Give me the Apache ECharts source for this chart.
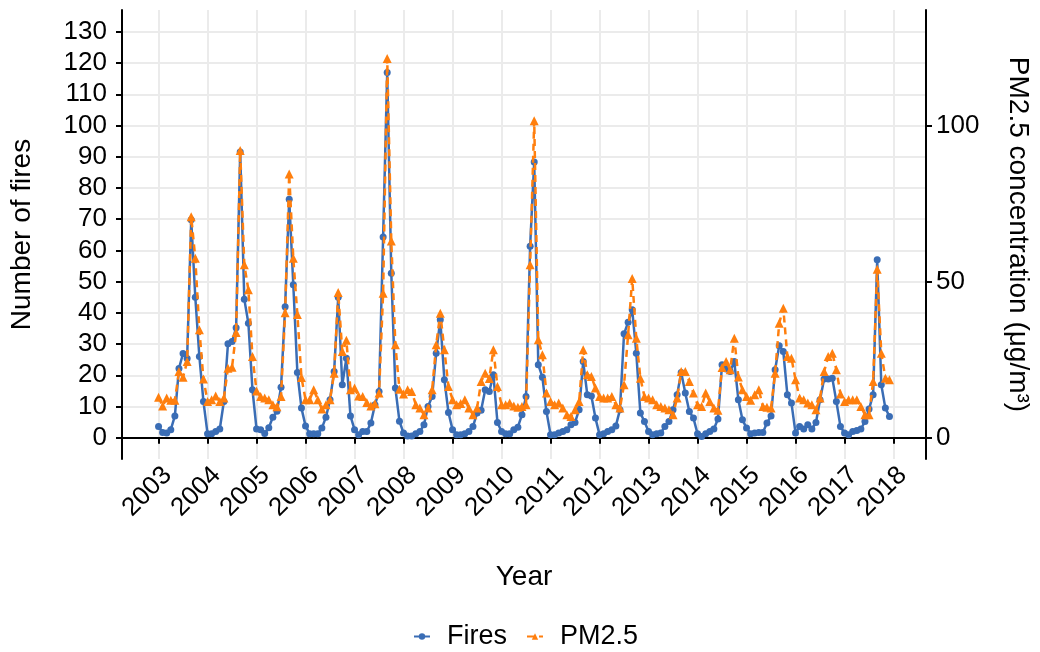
<!DOCTYPE html>
<html>
<head>
<meta charset="utf-8">
<title>Fires and PM2.5</title>
<script src="https://cdn.jsdelivr.net/npm/echarts@6/dist/echarts.min.js"></script>
<style>
  html, body { margin: 0; padding: 0; background: #ffffff; }
  #chart { width: 1040px; height: 652px; }
</style>
</head>
<body>
<div id="chart"></div>
<script>
// Monthly series, January 2003 to December 2017
const startYear = 2003;

const fires = [
  // 2003
  3.6, 1.7, 1.5, 2.6, 7.0, 22.2, 27.0, 25.4, 69.8, 45.0, 26.0, 11.6,
  // 2004
  1.3, 1.3, 2.0, 2.8, 11.6, 30.1, 30.8, 35.2, 91.5, 44.4, 36.7, 15.4,
  // 2005
  2.8, 2.6, 1.4, 3.2, 6.6, 8.5, 16.2, 42.0, 76.4, 49.0, 20.9, 9.5,
  // 2006
  3.8, 1.3, 1.3, 1.3, 3.1, 6.6, 12.2, 21.2, 45.0, 17.0, 25.5, 7.0,
  // 2007
  2.6, 1.0, 2.0, 2.0, 4.7, 10.6, 14.8, 64.3, 117.0, 52.7, 15.9, 5.3,
  // 2008
  1.5, 0.6, 0.6, 1.3, 2.0, 4.2, 10.0, 13.2, 27.1, 37.8, 18.6, 8.1,
  // 2009
  2.6, 1.0, 1.0, 1.3, 2.0, 3.6, 7.9, 8.8, 15.4, 14.8, 20.2, 4.9,
  // 2010
  2.0, 1.3, 1.3, 2.6, 3.4, 7.4, 13.2, 61.3, 88.3, 23.4, 19.4, 8.4,
  // 2011
  1.0, 1.0, 1.5, 2.0, 2.6, 4.2, 4.9, 9.0, 24.4, 13.8, 13.4, 6.3,
  // 2012
  1.0, 1.3, 2.0, 2.6, 3.8, 9.0, 33.3, 37.0, 41.0, 27.1, 7.9, 5.2,
  // 2013
  2.0, 1.0, 1.3, 1.5, 3.6, 5.2, 9.0, 13.8, 20.9, 14.3, 8.4, 6.3,
  // 2014
  1.3, 0.4, 1.3, 2.0, 2.8, 6.0, 23.4, 22.0, 21.2, 24.4, 12.2, 5.8,
  // 2015
  3.1, 1.3, 1.5, 1.7, 1.7, 4.7, 7.0, 21.8, 29.5, 27.6, 13.8, 11.1,
  // 2016
  1.5, 3.6, 2.8, 4.2, 2.8, 4.9, 12.2, 18.8, 18.8, 19.1, 11.6, 3.6,
  // 2017
  1.5, 1.0, 2.0, 2.3, 2.8, 5.2, 9.2, 13.8, 57.0, 17.0, 9.5, 6.8
];

const pm25 = [
  // 2003
  13.0, 10.2, 12.7, 12.0, 12.0, 21.2, 19.4, 24.4, 70.8, 57.5, 34.6, 18.8,
  // 2004
  11.6, 12.2, 13.4, 11.6, 12.7, 22.3, 22.6, 33.7, 92.0, 55.4, 47.4, 26.0,
  // 2005
  15.0, 13.2, 12.7, 12.2, 10.6, 9.9, 13.2, 40.0, 84.5, 57.5, 39.5, 19.3,
  // 2006
  12.2, 12.2, 15.4, 12.2, 9.2, 10.6, 12.2, 20.7, 46.5, 27.6, 31.2, 15.4,
  // 2007
  15.9, 13.4, 13.2, 11.3, 10.2, 10.9, 14.3, 46.3, 121.5, 63.0, 29.8, 15.5,
  // 2008
  14.0, 15.4, 14.8, 10.6, 9.5, 7.4, 9.5, 15.4, 29.8, 39.9, 28.2, 16.4,
  // 2009
  12.2, 10.6, 11.0, 12.2, 9.5, 7.4, 9.5, 18.0, 20.7, 19.0, 28.2, 16.4,
  // 2010
  10.6, 10.6, 11.1, 10.2, 9.8, 10.0, 10.6, 55.4, 101.5, 31.4, 26.6, 14.3,
  // 2011
  11.6, 10.6, 11.1, 9.5, 7.4, 6.8, 9.0, 11.6, 28.2, 20.2, 19.6, 15.9,
  // 2012
  13.2, 12.7, 12.7, 13.2, 10.6, 9.5, 17.0, 33.0, 51.0, 31.9, 19.1, 13.2,
  // 2013
  12.7, 12.2, 10.6, 10.0, 9.5, 9.0, 7.4, 12.7, 21.2, 21.2, 18.0, 14.3,
  // 2014
  10.6, 10.0, 14.3, 11.6, 9.5, 8.8, 22.5, 24.4, 21.8, 31.9, 19.5, 15.4,
  // 2015
  13.2, 12.0, 13.8, 15.4, 10.0, 9.8, 9.5, 20.7, 36.7, 41.5, 26.0, 25.5,
  // 2016
  18.6, 12.7, 12.2, 11.1, 10.6, 9.0, 12.7, 21.2, 26.0, 27.1, 21.8, 14.0,
  // 2017
  11.6, 12.2, 12.2, 12.2, 10.0, 7.4, 7.4, 18.0, 54.0, 27.1, 19.1, 18.6
];

const yearTicks = [2003, 2004, 2005, 2006, 2007, 2008, 2009, 2010,
                   2011, 2012, 2013, 2014, 2015, 2016, 2017, 2018];
const fireTicks = [0, 10, 20, 30, 40, 50, 60, 70, 80, 90, 100, 110, 120, 130];
const pmTicks = [0, 50, 100];

// pair each monthly value with its decimal-year position
function toPoints(values) {
  return values.map((v, i) => [startYear + i / 12, v]);
}

// padded ranges: 5% of the data span on each side
const lastX = startYear + (fires.length - 1) / 12;
const xPad = (lastX - startYear) * 0.05;

const FONT = 'Liberation Sans, Arial, sans-serif';
const INK = '#000000';
const BLUE = '#3a6db5';
const ORANGE = '#ff7f0e';
const TICK_SIZE = 26;
const TITLE_SIZE = 28;

const chart = echarts.init(document.getElementById('chart'), null, { renderer: 'canvas' });

chart.setOption({
  backgroundColor: '#ffffff',
  animation: false,
  grid: { left: 122, right: 112, top: 10, bottom: 193, containLabel: false },
  legend: {
    bottom: -3,
    left: 408,
    itemWidth: 16,
    itemHeight: 8,
    itemGap: 19,
    textStyle: { fontFamily: FONT, fontSize: 27, color: INK, padding: [0, 0, 0, 12] },
    data: ['Fires', 'PM2.5']
  },
  xAxis: {
    type: 'value',
    min: startYear - xPad,
    max: lastX + xPad,
    name: 'Year',
    nameLocation: 'middle',
    nameGap: 104,
    nameTextStyle: { fontFamily: FONT, fontSize: TITLE_SIZE, color: INK },
    axisLine: { show: true, lineStyle: { color: INK, width: 2 } },
    axisTick: { show: true, customValues: yearTicks, length: 6, lineStyle: { color: INK, width: 2 } },
    axisLabel: {
      customValues: yearTicks,
      rotate: 45,
      margin: 3,
      verticalAlign: 'top',
      fontFamily: FONT, fontSize: TICK_SIZE, color: INK,
      formatter: v => String(Math.round(v))
    },
    splitLine: { show: true, lineStyle: { color: '#ebebeb', width: 2 } }
  },
  yAxis: [
    {
      type: 'value',
      position: 'left',
      min: -6.8,
      max: 137,
      name: 'Number of fires',
      nameLocation: 'middle',
      nameGap: 86,
      nameRotate: 90,
      nameTextStyle: { fontFamily: FONT, fontSize: TITLE_SIZE, color: INK },
      axisLine: { show: true, lineStyle: { color: INK, width: 2 } },
      axisTick: { show: true, customValues: fireTicks, length: 6, lineStyle: { color: INK, width: 2 } },
      axisLabel: { customValues: fireTicks, margin: 15, fontFamily: FONT, fontSize: TICK_SIZE, color: INK },
      splitLine: { show: true, lineStyle: { color: '#ebebeb', width: 2 } }
    },
    {
      type: 'value',
      position: 'right',
      min: -6.8,
      max: 137,
      name: 'PM2.5 concentration (μg/m³)',
      nameLocation: 'middle',
      nameGap: 78,
      nameRotate: -90,
      nameTextStyle: { fontFamily: FONT, fontSize: TITLE_SIZE, color: INK },
      axisLine: { show: true, lineStyle: { color: INK, width: 2 } },
      axisTick: { show: true, customValues: pmTicks, length: 6, lineStyle: { color: INK, width: 2 } },
      axisLabel: { customValues: pmTicks, margin: 10, fontFamily: FONT, fontSize: TICK_SIZE, color: INK },
      splitLine: { show: false }
    }
  ],
  series: [
    {
      name: 'Fires',
      type: 'line',
      yAxisIndex: 0,
      data: toPoints(fires),
      symbol: 'circle',
      symbolSize: 7,
      showAllSymbol: true,
      itemStyle: { color: BLUE },
      lineStyle: { color: BLUE, width: 2.5 },
      z: 2
    },
    {
      name: 'PM2.5',
      type: 'line',
      yAxisIndex: 1,
      data: toPoints(pm25),
      symbol: 'triangle',
      symbolSize: 9,
      showAllSymbol: true,
      itemStyle: { color: ORANGE },
      lineStyle: { color: ORANGE, width: 2.5, type: [7, 5] },
      z: 3
    }
  ]
});
</script>
</body>
</html>
